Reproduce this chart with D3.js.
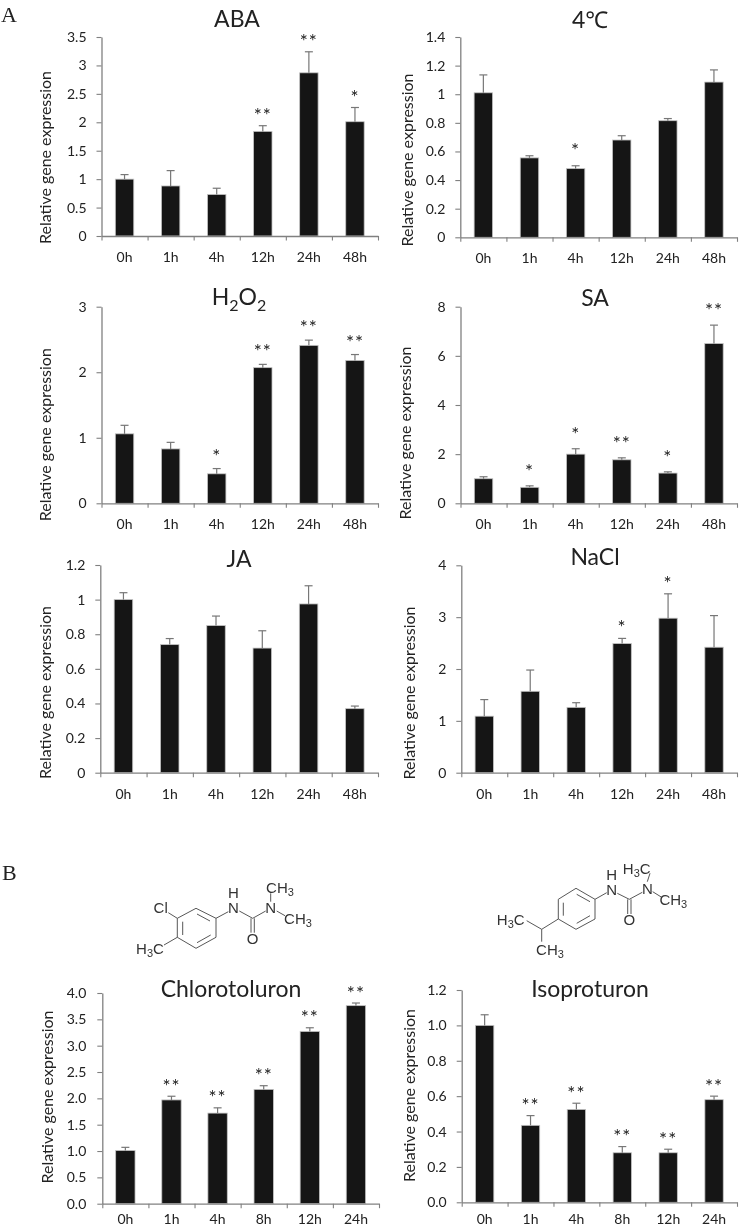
<!DOCTYPE html>
<html>
<head>
<meta charset="utf-8">
<script src="https://cdnjs.cloudflare.com/ajax/libs/d3/7.8.5/d3.min.js"></script>
<style>
html, body { margin: 0; padding: 0; background: #fff; }
svg { display: block; filter: grayscale(1); }
text { font-family: Lato, "Noto Sans", sans-serif; fill: #222; }
</style>
</head>
<body>
<svg id="chart" width="746" height="1227"></svg>
<script>
// time points
const hoursA = ['0h', '1h', '4h', '12h', '24h', '48h'];
const hoursB = ['0h', '1h', '4h', '8h', '12h', '24h'];

// bar heights and top of the error bar
const abaVals = [1.0, 0.88, 0.73, 1.84, 2.87, 2.01];
const abaErr = [1.08, 1.15, 0.84, 1.94, 3.24, 2.26];
const abaStars = ['', '', '', '**', '**', '*'];
const coldVals = [1.01, 0.555, 0.48, 0.68, 0.815, 1.085];
const coldErr = [1.135, 0.57, 0.5, 0.71, 0.83, 1.17];
const coldStars = ['', '', '*', '', '', ''];
const h2o2Vals = [1.06, 0.83, 0.45, 2.07, 2.41, 2.18];
const h2o2Err = [1.19, 0.93, 0.53, 2.12, 2.49, 2.27];
const h2o2Stars = ['', '', '*', '**', '**', '**'];
const saVals = [1.0, 0.65, 2.0, 1.77, 1.23, 6.5];
const saErr = [1.08, 0.71, 2.22, 1.85, 1.28, 7.25];
const saStars = ['', '*', '*', '**', '*', '**'];
const jaVals = [1.0, 0.74, 0.85, 0.72, 0.975, 0.37];
const jaErr = [1.04, 0.775, 0.905, 0.82, 1.08, 0.385];
const jaStars = ['', '', '', '', '', ''];
const naclVals = [1.09, 1.57, 1.26, 2.49, 2.98, 2.42];
const naclErr = [1.41, 1.98, 1.35, 2.59, 3.45, 3.03];
const naclStars = ['', '', '', '*', '*', ''];
const chloroVals = [1.01, 1.97, 1.72, 2.17, 3.27, 3.76];
const chloroErr = [1.07, 2.04, 1.82, 2.24, 3.34, 3.81];
const chloroStars = ['', '**', '**', '**', '**', '**'];
const isoVals = [1.0, 0.435, 0.525, 0.28, 0.28, 0.58];
const isoErr = [1.06, 0.49, 0.56, 0.315, 0.3, 0.6];
const isoStars = ['', '**', '**', '**', '**', '**'];

// tick labels
const ticksAba = ['0', '0.5', '1', '1.5', '2', '2.5', '3', '3.5'];
const ticksCold = ['0', '0.2', '0.4', '0.6', '0.8', '1', '1.2', '1.4'];
const ticksH2o2 = ['0', '1', '2', '3'];
const ticksSa = ['0', '2', '4', '6', '8'];
const ticksJa = ['0', '0.2', '0.4', '0.6', '0.8', '1', '1.2'];
const ticksNacl = ['0', '1', '2', '3', '4'];
const ticksChloro = ['0.0', '0.5', '1.0', '1.5', '2.0', '2.5', '3.0', '3.5', '4.0'];
const ticksIso = ['0.0', '0.2', '0.4', '0.6', '0.8', '1.0', '1.2'];

const svg = d3.select('#chart');
const axisColor = '#808080';

function drawPanel(p) {
    const g = svg.append('g');
    const top = +p.ticks[p.ticks.length - 1];

    const x = d3.scaleBand().domain(p.cats).range([p.left, p.right]).paddingInner(p.inner).paddingOuter(p.inner / 2);
    const y = d3.scaleLinear().domain([0, top]).range([p.bottom, p.top]);
    // excel style ticks sit between the bars
    const xEdges = d3.scaleLinear().domain([0, p.cats.length]).range([p.left, p.right]);

    g.selectAll('rect.bar').data(p.vals).join('rect')
        .attr('class', 'bar')
        .attr('x', (d, i) => x(p.cats[i]))
        .attr('y', d => y(d))
        .attr('width', x.bandwidth())
        .attr('height', d => p.bottom - y(d))
        .attr('fill', '#151515')
        .attr('stroke', '#c4c4c4')
        .attr('stroke-width', 0.8);

    // error bars, upper half only
    const errs = g.selectAll('g.err').data(p.err).join('g').attr('class', 'err')
        .attr('stroke', '#777').attr('stroke-width', 1.2);
    errs.append('line')
        .attr('x1', (d, i) => x(p.cats[i]) + x.bandwidth() / 2)
        .attr('x2', (d, i) => x(p.cats[i]) + x.bandwidth() / 2)
        .attr('y1', (d, i) => y(p.vals[i]))
        .attr('y2', d => y(d));
    errs.append('line')
        .attr('x1', (d, i) => x(p.cats[i]) + x.bandwidth() / 2 - 4)
        .attr('x2', (d, i) => x(p.cats[i]) + x.bandwidth() / 2 + 4)
        .attr('y1', d => y(d))
        .attr('y2', d => y(d));

    g.selectAll('text.star').data(p.stars).join('text')
        .attr('class', 'star')
        .attr('x', (d, i) => x(p.cats[i]) + x.bandwidth() / 2)
        .attr('y', (d, i) => y(p.err[i]) - p.starGap)
        .attr('text-anchor', 'middle')
        .style('font-size', '19px')
        .style('letter-spacing', '1px')
        .text(d => d);

    const yAxis = d3.axisLeft(y)
        .tickValues(p.ticks.map(Number))
        .tickFormat((d, i) => p.ticks[i])
        .tickSizeInner(5).tickSizeOuter(0).tickPadding(p.pad || 10);
    const yG = g.append('g').attr('transform', `translate(${p.left},0)`).call(yAxis);
    yG.selectAll('text').style('font-size', '14px');

    const xTicks = d3.axisBottom(xEdges)
        .tickValues(d3.range(p.cats.length + 1))
        .tickFormat('')
        .tickSizeInner(4.5).tickSizeOuter(0);
    const xG = g.append('g').attr('transform', `translate(0,${p.bottom})`).call(xTicks);

    const xLabels = d3.axisBottom(x).tickSize(0).tickPadding(0);
    const lbG = g.append('g').attr('transform', `translate(0,${p.xBase})`).call(xLabels);
    lbG.select('.domain').remove();
    lbG.selectAll('text').attr('y', 0).attr('dy', 0).style('font-size', '14px');

    [yG, xG].forEach(a => {
        a.select('.domain').attr('stroke', axisColor).attr('stroke-width', 1.3);
        a.selectAll('line').attr('stroke', axisColor).attr('stroke-width', 1.1);
    });

    g.append('text')
        .attr('transform', `translate(${p.labelX},${p.labelY}) rotate(-90)`)
        .attr('text-anchor', 'middle')
        .style('font-size', '16px')
        .text('Relative gene expression');

    const title = g.append('text')
        .attr('x', p.titleX).attr('y', p.titleY)
        .attr('text-anchor', 'middle')
        .style('font-size', '23px');
    if (p.sub) {
        // H2O2 needs subscripts
        title.append('tspan').text('H');
        title.append('tspan').attr('dy', 6).style('font-size', '16px').text('2');
        title.append('tspan').attr('dy', -6).text('O');
        title.append('tspan').attr('dy', 6).style('font-size', '16px').text('2');
    } else {
        title.text(p.title);
    }
}

drawPanel({ title: 'ABA', cats: hoursA, vals: abaVals, err: abaErr, stars: abaStars, ticks: ticksAba, left: 101.5, right: 378, top: 37, bottom: 236, inner: 0.6, xBase: 262, labelX: 50.7, labelY: 157.5, titleX: 237, titleY: 27, starGap: 4 });
drawPanel({ title: '4\u2103', cats: hoursA, vals: coldVals, err: coldErr, stars: coldStars, ticks: ticksCold, left: 460.3, right: 737, top: 37, bottom: 237.3, inner: 0.6, xBase: 263, labelX: 413, labelY: 160, titleX: 590, titleY: 28, starGap: 9 });
drawPanel({ title: 'H2O2', sub: true, cats: hoursA, vals: h2o2Vals, err: h2o2Err, stars: h2o2Stars, ticks: ticksH2o2, left: 101.5, right: 378, top: 306.7, bottom: 503.3, inner: 0.6, xBase: 529, labelX: 50.7, labelY: 434.7, titleX: 239, titleY: 305, starGap: 6 });
drawPanel({ title: 'SA', cats: hoursA, vals: saVals, err: saErr, stars: saStars, ticks: ticksSa, left: 460.5, right: 737, top: 306.7, bottom: 503.3, inner: 0.6, xBase: 529, labelX: 411, labelY: 433, titleX: 595, titleY: 305.7, starGap: 8 });
drawPanel({ title: 'JA', cats: hoursA, vals: jaVals, err: jaErr, stars: jaStars, ticks: ticksJa, left: 100.3, right: 378, top: 565, bottom: 772.7, inner: 0.6, xBase: 799.3, labelX: 50.7, labelY: 692.5, titleX: 239, titleY: 567, starGap: 4 });
drawPanel({ title: 'NaCl', cats: hoursA, vals: naclVals, err: naclErr, stars: naclStars, ticks: ticksNacl, left: 461.3, right: 737, top: 565.3, bottom: 772.7, inner: 0.6, xBase: 799, labelX: 414.7, labelY: 693, titleX: 595, titleY: 565, starGap: 4 });
drawPanel({ title: 'Chlorotoluron', cats: hoursB, vals: chloroVals, err: chloroErr, stars: chloroStars, ticks: ticksChloro, left: 102.3, right: 379, top: 993, bottom: 1203.7, inner: 0.58, xBase: 1224, labelX: 53, labelY: 1097, titleX: 231, titleY: 997, starGap: 3.5, pad: 11 });
drawPanel({ title: 'Isoproturon', cats: hoursB, vals: isoVals, err: isoErr, stars: isoStars, ticks: ticksIso, left: 461.7, right: 737, top: 990, bottom: 1202.3, inner: 0.6, xBase: 1224, labelX: 414.7, labelY: 1095.5, titleX: 590, titleY: 997, starGap: 3.5 });

// panel letters
svg.append('text').attr('x', 1).attr('y', 22).style('font-family', '"Liberation Serif", serif').style('font-size', '22px').text('A');
svg.append('text').attr('x', 2).attr('y', 880).style('font-family', '"Liberation Serif", serif').style('font-size', '22px').text('B');

// structure formulas, drawn in their own little coordinate system
const chloroBonds = [
    [196, 908.3, 216, 918.3], [216, 918.3, 216, 937.3], [216, 937.3, 196, 948.3],
    [196, 948.3, 177.3, 937.3], [177.3, 937.3, 177.3, 918.3], [177.3, 918.3, 196, 908.3],
    [197, 914, 210, 921], [182.7, 921.7, 182.7, 935], [197, 942.7, 210.7, 935],
    [177.3, 918.3, 168.3, 912.7], [177.3, 937.3, 164, 945],
    [216, 918.3, 228.3, 911.7], [239.3, 911, 252.7, 918.3],
    [251, 918.3, 251, 932.7], [254.3, 918.3, 254.3, 932.7],
    [252.7, 918.3, 265.7, 911], [270.7, 901.7, 270.7, 893.3], [276.7, 911, 285, 915.7]
];
const chloroAtoms = [
    [160.7, 907.3, 'Cl'], [150, 948.3, 'H3C'], [233.3, 908, 'N'], [233.3, 892.5, 'H'],
    [252.7, 938.3, 'O'], [270.7, 907.3, 'N'], [280, 887.3, 'CH3'], [298, 918.3, 'CH3']
];
const isoBonds = [
    [576, 888.3, 595, 899.3], [595, 899.3, 595, 919], [595, 919, 576, 929.3],
    [576, 929.3, 558.3, 919], [558.3, 919, 558.3, 899.3], [558.3, 899.3, 576, 888.3],
    [576.7, 894.3, 590, 901.7], [563.3, 902.7, 563.3, 915.7], [576.7, 923.3, 590, 915.7],
    [595, 899.3, 606.7, 892.7], [617.3, 893.3, 629.3, 899.3],
    [627.7, 899.3, 627.7, 914], [631, 899.3, 631, 914],
    [629.3, 899.3, 642.3, 892.3], [647.3, 881.7, 650, 873.3], [652.7, 891.7, 661.7, 897.3],
    [558.3, 919, 541.7, 929.3], [541.7, 929.3, 526.7, 920.7], [541.7, 929.3, 541.7, 941.7]
];
const isoAtoms = [
    [611.7, 890, 'N'], [611.7, 875, 'H'], [629.3, 919.3, 'O'], [647.3, 888.3, 'N'],
    [636.7, 868.3, 'H3C'], [673.3, 900, 'CH3'], [510.7, 920, 'H3C'], [550, 950, 'CH3']
];

function drawStructure(bonds, atoms) {
    const g = svg.append('g');
    g.selectAll('line').data(bonds).join('line')
        .attr('x1', d => d[0]).attr('y1', d => d[1])
        .attr('x2', d => d[2]).attr('y2', d => d[3])
        .attr('stroke', '#444').attr('stroke-width', 0.9);
    const labels = g.selectAll('text').data(atoms).join('text')
        .attr('x', d => d[0]).attr('y', d => d[1])
        .attr('dy', '0.36em')
        .attr('text-anchor', 'middle')
        .style('font-family', '"Liberation Sans", sans-serif')
        .style('font-size', '15px')
        .style('fill', '#333');
    labels.each(function (d) {
        // split out the subscript 3
        const el = d3.select(this);
        d[2].split(/(3)/).filter(s => s).forEach((part, i, all) => {
            if (part === '3') {
                el.append('tspan').attr('dy', 3).style('font-size', '11px').text('3');
                if (i < all.length - 1) el.append('tspan').attr('dy', -3).text(all[i + 1]);
            } else if (i === 0) {
                el.append('tspan').text(part);
            }
        });
    });
}
drawStructure(chloroBonds, chloroAtoms);
drawStructure(isoBonds, isoAtoms);
</script>
</body>
</html>
